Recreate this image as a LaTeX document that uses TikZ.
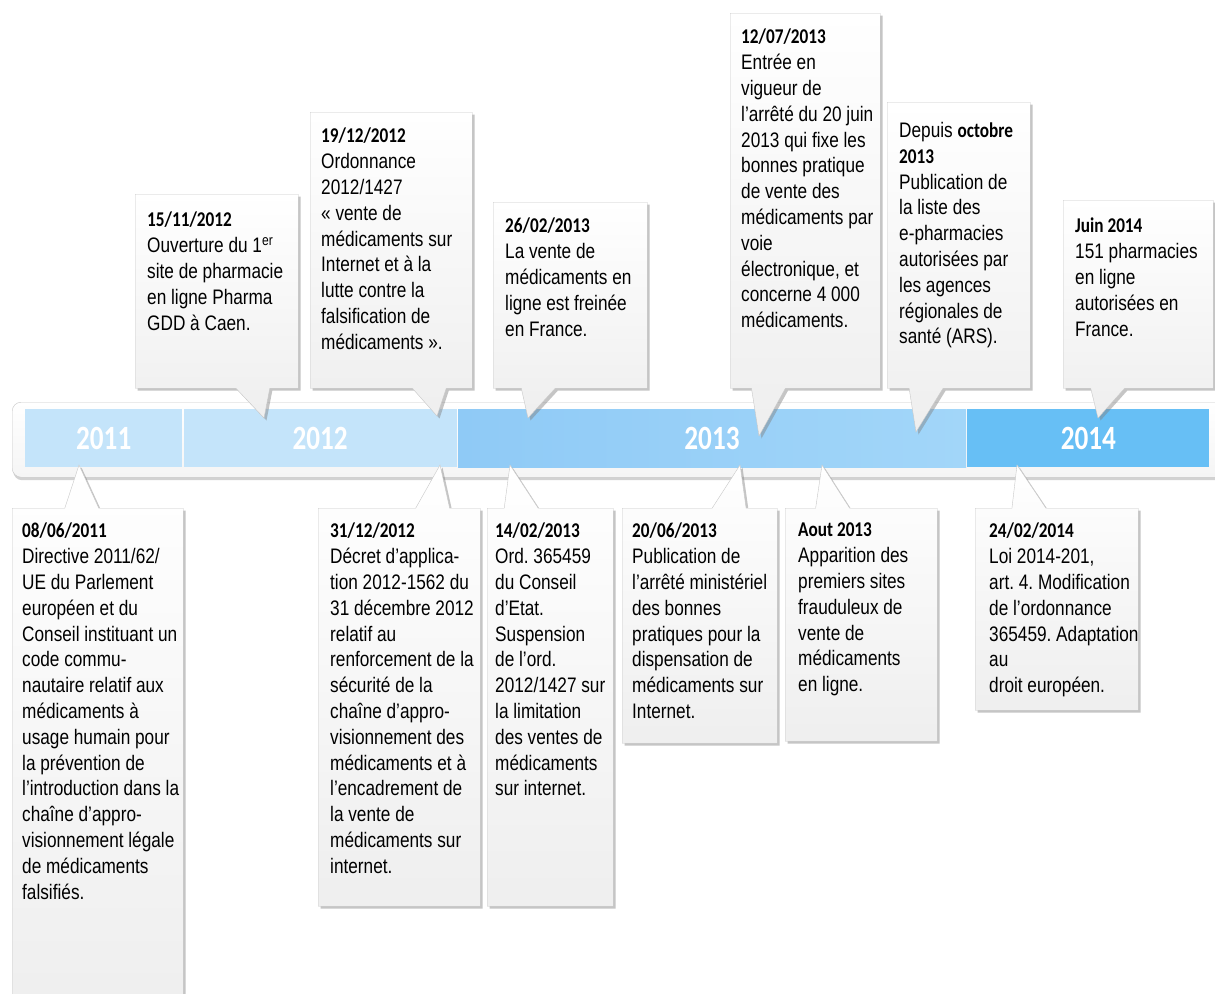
\documentclass[tikz,border=0pt]{standalone}
\usepackage{fontspec}
\setmainfont{Liberation Sans}[FakeStretch=0.82]
\newfontfamily\datefont{Carlito}[FakeStretch=0.82]
\newfontfamily\yearfont{Carlito}[FakeStretch=0.8]
\usetikzlibrary{shapes.callouts,shadows,positioning}
\frenchspacing
\definecolor{an2012}{RGB}{196,228,250}
\definecolor{an2013a}{RGB}{143,202,246}
\definecolor{an2013b}{RGB}{162,214,249}
\definecolor{an2014}{RGB}{103,191,245}
\definecolor{bord}{RGB}{200,200,200}
\newcommand{\jour}[1]{{\datefont\bfseries #1}}
\tikzset{
    %Define style for the callout boxes
    bulle/.style={
           rectangle callout,
           anchor=north west,
           draw=bord,
           top color=white, bottom color=gray!13,
           drop shadow={shadow xshift=2.5pt, shadow yshift=-2.5pt, opacity=.45},
           callout pointer width=34pt,
           inner sep=0pt},
    %Define style for the texts in the boxes
    texte/.style={
           anchor=north west,
           align=left,
           inner sep=0pt,
           font=\fontsize{21}{25.8}\selectfont},
    %Define style for the year blocks
    annee/.style={
           rectangle,
           anchor=north west,
           minimum height=58pt,
           inner sep=0pt,
           text=white,
           font=\yearfont\bfseries\fontsize{34}{34}\selectfont}
}
\begin{document}
\begin{tikzpicture}[x=1pt,y=-1pt]
\useasboundingbox (0,0) rectangle (1215,993);
\fill[white] (0,0) rectangle (1215,993);

\node[rectangle, anchor=north west, minimum width=1215pt, minimum height=75pt,
  rounded corners=9pt, draw=bord, top color=white, bottom color=gray!8,
  drop shadow={shadow xshift=1pt, shadow yshift=-3pt, opacity=.35}] (frise) at (12,402) {};
\node[annee, fill=an2012, minimum width=157pt] (s2011) at (25,409) {2011};
\node[annee, fill=an2012, minimum width=273pt, right=1pt of s2011] (s2012) {2012};
\node[annee, left color=an2013a, right color=an2013b, minimum width=508pt, right=1pt of s2012] (s2013) {2013};
\node[annee, fill=an2014, minimum width=242pt, right=1pt of s2013] (s2014) {2014};

\node[bulle, minimum width=163pt, minimum height=194pt, callout absolute pointer={(264,418)}] (ouverture) at (135,194) {};
\node[texte] (ouverture-t) at ([shift={(12,18)}]ouverture.north west)
  {\jour{15/11/2012}\\Ouverture du 1\textsuperscript{er}\\site de pharmacie\\en ligne Pharma\\GDD à Caen.};
\node[bulle, minimum width=162pt, minimum height=276pt, callout absolute pointer={(437,416)}] (ordonnance) at (310,112) {};
\node[texte] (ordonnance-t) at ([shift={(11,16)}]ordonnance.north west)
  {\jour{19/12/2012}\\Ordonnance\\2012/1427\\« vente de\\médicaments sur\\Internet et à la\\lutte contre la\\falsification de\\médicaments ».};
\node[bulle, minimum width=154pt, minimum height=186pt, callout absolute pointer={(528,418)}] (freinage) at (493,202) {};
\node[texte] (freinage-t) at ([shift={(12,16)}]freinage.north west)
  {\jour{26/02/2013}\\La vente de\\médicaments en\\ligne est freinée\\en France.};
\node[bulle, minimum width=150pt, minimum height=375pt, callout absolute pointer={(759,436)}] (vigueur) at (730,13) {};
\node[texte] (vigueur-t) at ([shift={(11,16)}]vigueur.north west)
  {\jour{12/07/2013}\\Entrée en\\vigueur de\\l'arrêté du 20 juin\\2013 qui fixe les\\bonnes pratique\\de vente des\\médicaments par\\voie\\électronique, et\\concerne 4 000\\médicaments.};
\node[bulle, minimum width=143pt, minimum height=286pt, callout absolute pointer={(916,432)}] (liste) at (887,102) {};
\node[texte] (liste-t) at ([shift={(12,20)}]liste.north west)
  {Depuis \jour{octobre}\\\jour{2013}\\Publication de\\la liste des\\e-pharmacies\\autorisées par\\les agences\\régionales de\\santé (ARS).};
\node[bulle, minimum width=150pt, minimum height=188pt, callout absolute pointer={(1098,418)}] (juin) at (1063,200) {};
\node[texte] (juin-t) at ([shift={(12,18)}]juin.north west)
  {\jour{Juin 2014}\\151 pharmacies\\en ligne\\autorisées en\\France.};

\node[bulle, minimum width=171pt, minimum height=500pt, callout absolute pointer={(79,465)}] (directive) at (12,508) {};
\node[texte] (directive-t) at ([shift={(10,15)}]directive.north west)
  {\jour{08/06/2011}\\Directive 2011/62/\\UE du Parlement\\européen et du\\Conseil instituant un\\code commu-\\nautaire relatif aux\\médicaments à\\usage humain pour\\la prévention de\\l'introduction dans la\\chaîne d'appro-\\visionnement légale\\de médicaments\\falsifiés.};
\node[bulle, minimum width=162pt, minimum height=398pt, callout absolute pointer={(440,465)}] (decret) at (318,508) {};
\node[texte] (decret-t) at ([shift={(12,15)}]decret.north west)
  {\jour{31/12/2012}\\Décret d'applica-\\tion 2012-1562 du\\31 décembre 2012\\relatif au\\renforcement de la\\sécurité de la\\chaîne d'appro-\\visionnement des\\médicaments et à\\l'encadrement de\\la vente de\\médicaments sur\\internet.};
\node[bulle, minimum width=126pt, minimum height=398pt, callout absolute pointer={(510,465)}] (suspension) at (487,508) {};
\node[texte] (suspension-t) at ([shift={(8,15)}]suspension.north west)
  {\jour{14/02/2013}\\Ord. 365459\\du Conseil\\d'Etat.\\Suspension\\de l'ord.\\2012/1427 sur\\la limitation\\des ventes de\\médicaments\\sur internet.};
\node[bulle, minimum width=155pt, minimum height=235pt, callout absolute pointer={(740,465)}] (publication) at (622,508) {};
\node[texte] (publication-t) at ([shift={(10,15)}]publication.north west)
  {\jour{20/06/2013}\\Publication de\\l'arrêté ministériel\\des bonnes\\pratiques pour la\\dispensation de\\médicaments sur\\Internet.};
\node[bulle, minimum width=152pt, minimum height=233pt, callout absolute pointer={(822,465)}] (fraude) at (785,508) {};
\node[texte] (fraude-t) at ([shift={(13,15)}]fraude.north west)
  {\jour{Aout 2013}\\Apparition des\\premiers sites\\frauduleux de\\vente de\\médicaments\\en ligne.};
\node[bulle, minimum width=163pt, minimum height=202pt, callout absolute pointer={(1017,465)}] (loi) at (975,508) {};
\node[texte] (loi-t) at ([shift={(14,15)}]loi.north west)
  {\jour{24/02/2014}\\Loi 2014-201,\\art. 4. Modification\\de l'ordonnance\\365459. Adaptation\\au\\droit européen.};
\end{tikzpicture}
\end{document}
